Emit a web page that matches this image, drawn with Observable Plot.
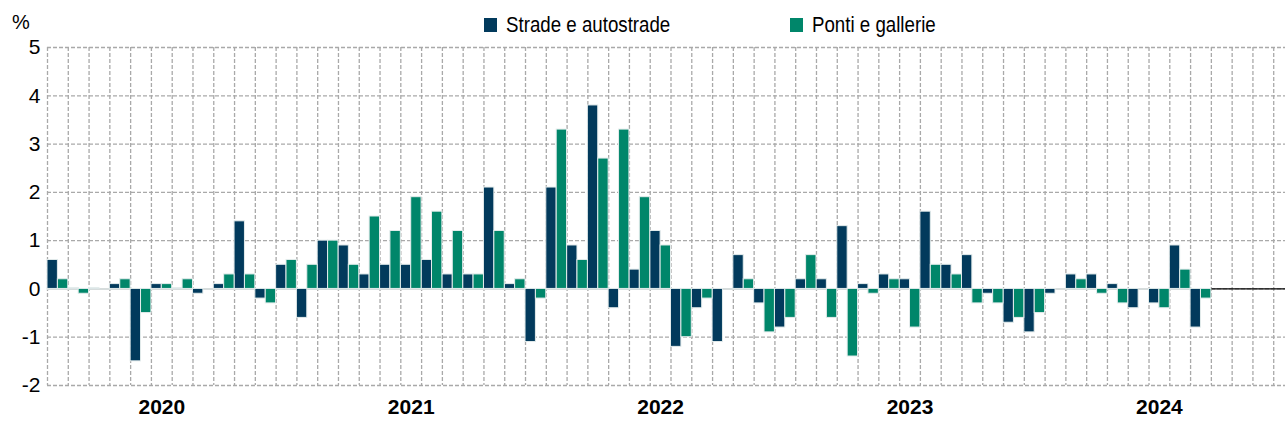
<!DOCTYPE html>
<html>
<head>
<meta charset="utf-8">
<script src="https://cdn.jsdelivr.net/npm/d3@7"></script>
<script src="https://cdn.jsdelivr.net/npm/@observablehq/plot@0.6"></script>
<style>
  html, body { margin: 0; padding: 0; background: #fff; overflow: hidden; }
  body { font-family: "Liberation Sans", Arial, sans-serif; }
  #wrap { position: relative; width: 1285px; height: 429px; }
  #head { position: relative; width: 1285px; height: 30px; }
  #pct { position: absolute; left: 12px; top: 12px; font-size: 20px; line-height: 20px; color: #000; }
  .leg { position: absolute; top: 14px; font-size: 22px; line-height: 22px; color: #000; white-space: nowrap; }
  .leg i { position: absolute; left: 0; top: 4px; width: 13px; height: 14px; }
  .leg span { position: absolute; left: 22px; top: 0; display: inline-block; transform: scaleX(0.85); transform-origin: 0 50%; }
  svg { display: block; }
</style>
</head>
<body>
<div id="wrap">
  <div id="head"><span id="pct">%</span></div>
  <div id="chart"></div>
</div>
<script>
// ---- data ----
const years = ["2020", "2021", "2022", "2023", "2024"];
const seriesNames = ["Strade e autostrade", "Ponti e gallerie"];
const seriesColors = ["#023a5c", "#00866a"];
const strade = [
  0.6, 0.02, 0.02, 0.1, -1.5, 0.1, 0.02, -0.1, 0.1, 1.4, -0.2, 0.5,
  -0.6, 1.0, 0.9, 0.3, 0.5, 0.5, 0.6, 0.3, 0.3, 2.1, 0.1, -1.1,
  2.1, 0.9, 3.8, -0.4, 0.4, 1.2, -1.2, -0.4, -1.1, 0.7, -0.3, -0.8,
  0.2, 0.2, 1.3, 0.1, 0.3, 0.2, 1.6, 0.5, 0.7, -0.1, -0.7, -0.9,
  -0.1, 0.3, 0.3, 0.1, -0.4, -0.3, 0.9, -0.8
];
const ponti = [
  0.2, -0.1, 0, 0.2, -0.5, 0.1, 0.2, 0, 0.3, 0.3, -0.3, 0.6,
  0.5, 1.0, 0.5, 1.5, 1.2, 1.9, 1.6, 1.2, 0.3, 1.2, 0.2, -0.2,
  3.3, 0.6, 2.7, 3.3, 1.9, 0.9, -1.0, -0.2, 0, 0.2, -0.9, -0.6,
  0.7, -0.6, -1.4, -0.1, 0.2, -0.8, 0.5, 0.3, -0.3, -0.3, -0.6, -0.5,
  0, 0.2, -0.1, -0.3, 0, -0.4, 0.4, -0.2
];
const yTicks = [-2, -1, 0, 1, 2, 3, 4, 5];

// ---- build ----
const nSlots = years.length * 12;
const nData = strade.length;
const rows = [];
[strade, ponti].forEach((arr, s) => arr.forEach((v, i) => rows.push({i, s, name: seriesNames[s], value: v})));
const yearPos = years.map((y, k) => k * 12 + 5.5);

// legend
const head = document.getElementById("head");
const legLeft = [484, 790];
seriesNames.forEach((n, s) => {
  const d = document.createElement("div");
  d.className = "leg";
  d.style.left = legLeft[s] + "px";
  d.innerHTML = `<i style="background:${seriesColors[s]}"></i><span>${n}</span>`;
  head.appendChild(d);
});

const grid = "#a9a9a9";
const plot = Plot.plot({
  width: 1285,
  height: 399,
  marginTop: 17,
  marginBottom: 44,
  marginLeft: 47,
  marginRight: -9,
  style: { fontFamily: "'Liberation Sans',Arial,sans-serif", overflow: "hidden", background: "#fff" },
  x: { domain: [0, nSlots], axis: null },
  y: { domain: [-2, 5], axis: null },
  color: { domain: seriesNames, range: seriesColors },
  marks: [
    Plot.ruleX(d3.range(0, nSlots + 1), { stroke: grid, strokeWidth: 1.3, strokeDasharray: "4,2" }),
    Plot.ruleY(yTicks, { stroke: grid, strokeWidth: 1.3, strokeDasharray: "4,2" }),
    Plot.ruleY([0], { x1: 0, x2: nData, stroke: "#d6dcdc", strokeWidth: 2 }),
    Plot.ruleY([0], { x1: nData, x2: nSlots, stroke: "#000", strokeWidth: 1.3 }),
    Plot.rectY(rows, {
      x1: d => d.i + d.s * 0.5,
      x2: d => d.i + d.s * 0.5 + 0.5,
      y1: 0,
      y2: "value",
      fill: "name",
      stroke: "#e4ecec",
      strokeWidth: 1
    }),
    Plot.axisY(yTicks, { tickSize: 0, tickPadding: 7, fontSize: 21, label: null, tickFormat: d => String(d) }),
    Plot.axisX(yearPos, { tickSize: 0, tickPadding: 14, fontSize: 21, fontWeight: "bold", label: null, tickFormat: (d, k) => years[k] })
  ]
});
document.getElementById("chart").appendChild(plot);
</script>
</body>
</html>
